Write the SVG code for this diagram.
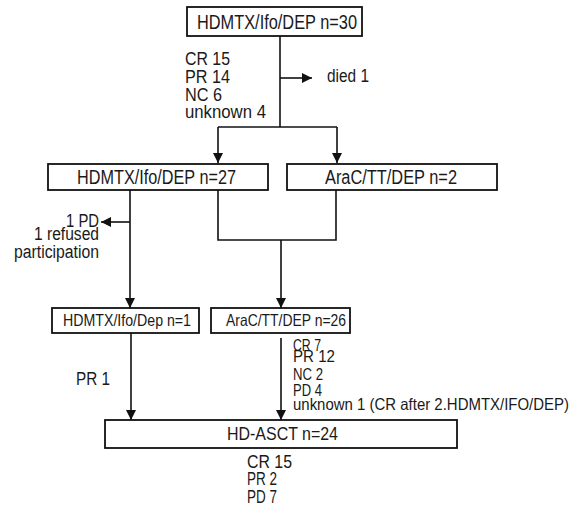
<svg xmlns="http://www.w3.org/2000/svg" width="580" height="507" viewBox="0 0 580 507">
<defs>
<style>
text{font-family:"Liberation Sans",Arial,sans-serif;fill:#1a1a1a;}
.box{fill:#fff;stroke:#111;stroke-width:1.8;}
.ln{fill:none;stroke:#111;stroke-width:1.6;}
.b{font-size:20px;}
.s{font-size:18px;}
.m{font-size:16.5px;}
.h{font-size:19px;}
</style>
<marker id="ah" viewBox="0 0 10 10" refX="10" refY="5" markerWidth="6.5" markerHeight="6.5" orient="auto"><path d="M0,0 L10,5 L0,10 Z" fill="#111"/></marker>
</defs>
<rect width="580" height="507" fill="#fff"/>
<g id="connectors">
<path class="ln" d="M280,36 V127"/>
<path class="ln" d="M218,127 H337"/>
<path class="ln" d="M218,127 V163" marker-end="url(#ah)"/>
<path class="ln" d="M337,127 V163" marker-end="url(#ah)"/>
<path class="ln" d="M280,78 H312" marker-end="url(#ah)"/>
<path class="ln" d="M130,190 V308" marker-end="url(#ah)"/>
<path class="ln" d="M130,222 H101" marker-end="url(#ah)"/>
<path class="ln" d="M218,190 V240 H336 V190"/>
<path class="ln" d="M281,240 V308" marker-end="url(#ah)"/>
<path class="ln" d="M131,333 V420" marker-end="url(#ah)"/>
<path class="ln" d="M281,338 V420" marker-end="url(#ah)"/>
</g>
<g id="n1">
<rect class="box" x="187" y="7" width="175" height="29"/>
<text class="b" x="197" y="29" textLength="160" lengthAdjust="spacingAndGlyphs">HDMTX/Ifo/DEP n=30</text>
</g>
<g id="n1-out">
<text class="s" x="185" y="65" textLength="45" lengthAdjust="spacingAndGlyphs">CR 15</text>
<text class="s" x="185" y="83" textLength="45" lengthAdjust="spacingAndGlyphs">PR 14</text>
<text class="s" x="185" y="101" textLength="37" lengthAdjust="spacingAndGlyphs">NC 6</text>
<text class="s" x="185" y="118" textLength="81" lengthAdjust="spacingAndGlyphs">unknown 4</text>
<text class="s" x="327" y="82" textLength="42" lengthAdjust="spacingAndGlyphs">died 1</text>
</g>
<g id="n2">
<rect class="box" x="48" y="164" width="220" height="26"/>
<text class="b" x="77" y="184" textLength="159" lengthAdjust="spacingAndGlyphs">HDMTX/Ifo/DEP n=27</text>
</g>
<g id="n3">
<rect class="box" x="287" y="164" width="210" height="26"/>
<text class="b" x="325" y="184" textLength="132" lengthAdjust="spacingAndGlyphs">AraC/TT/DEP n=2</text>
</g>
<g id="n2-out">
<text class="s" x="99" y="227" text-anchor="end" textLength="33" lengthAdjust="spacingAndGlyphs">1 PD</text>
<text class="s" x="99" y="240" text-anchor="end" textLength="65" lengthAdjust="spacingAndGlyphs">1 refused</text>
<text class="s" x="99" y="258" text-anchor="end" textLength="85" lengthAdjust="spacingAndGlyphs">participation</text>
</g>
<g id="n4">
<rect class="box" x="52" y="308" width="147" height="25"/>
<text class="m" x="63" y="326" textLength="128" lengthAdjust="spacingAndGlyphs">HDMTX/Ifo/Dep n=1</text>
</g>
<g id="n5">
<rect class="box" x="211" y="308" width="139" height="25"/>
<text class="m" x="226" y="326" textLength="120" lengthAdjust="spacingAndGlyphs">AraC/TT/DEP n=26</text>
</g>
<g id="n4-out">
<text class="s" x="76" y="385" textLength="34" lengthAdjust="spacingAndGlyphs">PR 1</text>
</g>
<g id="n5-out">
<text class="m" x="293" y="351" textLength="28" lengthAdjust="spacingAndGlyphs">CR 7</text>
<text class="m" x="293" y="362" textLength="42" lengthAdjust="spacingAndGlyphs">PR 12</text>
<text class="m" x="293" y="380" textLength="30" lengthAdjust="spacingAndGlyphs">NC 2</text>
<text class="m" x="293" y="396" textLength="29" lengthAdjust="spacingAndGlyphs">PD 4</text>
<text class="m" x="293" y="410" textLength="276" lengthAdjust="spacingAndGlyphs">unknown 1 (CR after 2.HDMTX/IFO/DEP)</text>
</g>
<g id="n6">
<rect class="box" x="105" y="420" width="352" height="28"/>
<text class="h" x="227" y="440" textLength="111" lengthAdjust="spacingAndGlyphs">HD-ASCT n=24</text>
</g>
<g id="n6-out">
<text class="h" x="247" y="468" textLength="45" lengthAdjust="spacingAndGlyphs">CR 15</text>
<text class="h" x="247" y="485" textLength="30" lengthAdjust="spacingAndGlyphs">PR 2</text>
<text class="h" x="247" y="503" textLength="30" lengthAdjust="spacingAndGlyphs">PD 7</text>
</g>
</svg>
